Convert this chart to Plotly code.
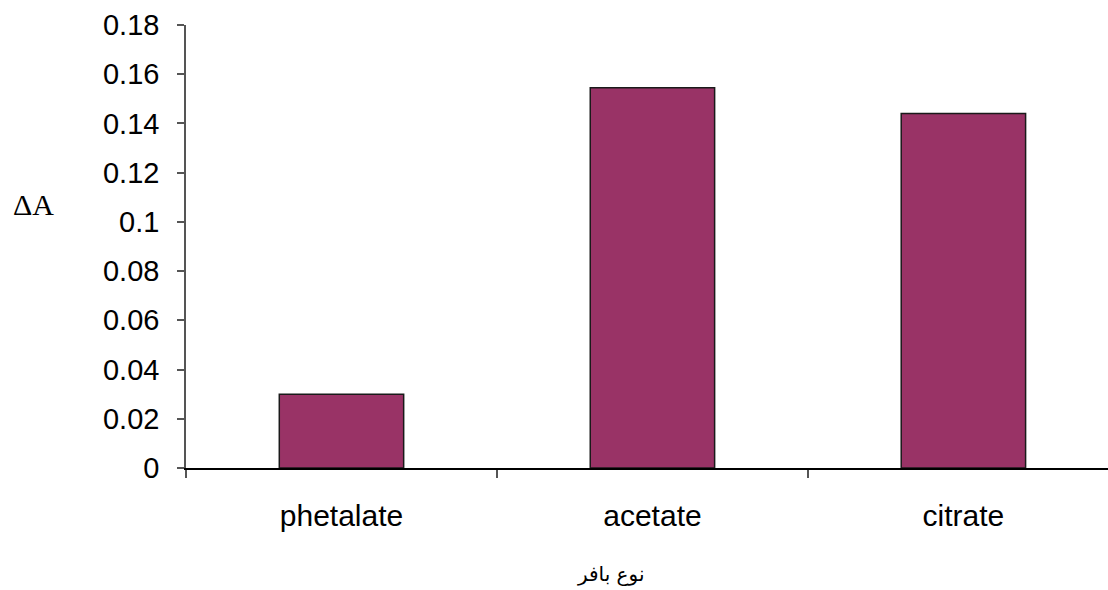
import plotly.graph_objects as go

# Buffer types and the measured absorbance change for each
buffers = ["phetalate", "acetate", "citrate"]
delta_a = [0.030, 0.1545, 0.144]
y_ticks = [0, 0.02, 0.04, 0.06, 0.08, 0.1, 0.12, 0.14, 0.16, 0.18]
y_tick_text = ["0", "0.02", "0.04", "0.06", "0.08", "0.1", "0.12", "0.14", "0.16", "0.18"]

fig = go.Figure(
    go.Bar(
        x=buffers,
        y=delta_a,
        width=0.4,
        marker=dict(color="#993366", line=dict(color="#1a1a1a", width=1.5)),
    )
)

fig.update_layout(
    width=1108,
    height=590,
    margin=dict(l=186, r=0, t=25, b=122),
    plot_bgcolor="white",
    paper_bgcolor="white",
    showlegend=False,
    font=dict(family="Liberation Sans, Arial, sans-serif", size=29, color="black"),
)

fig.update_xaxes(
    type="category",
    range=[-0.5, 2.465],
    showline=True,
    linecolor="black",
    linewidth=2,
    ticks="outside",
    tickson="boundaries",
    ticklen=8,
    tickwidth=1.5,
    tickcolor="#555",
    ticklabelstandoff=20,
    tickfont=dict(size=30),
    showgrid=False,
    zeroline=False,
)

fig.update_yaxes(
    range=[0, 0.18],
    tickvals=y_ticks,
    ticktext=y_tick_text,
    showline=True,
    linecolor="#555",
    linewidth=1.5,
    ticks="outside",
    ticklen=7,
    tickwidth=1.5,
    tickcolor="#555",
    ticklabelstandoff=12,
    tickfont=dict(size=29),
    showgrid=False,
    zeroline=False,
)

# Axis titles
fig.add_annotation(
    text="ΔA", xref="paper", yref="paper", x=-0.165, y=0.595,
    xanchor="center", yanchor="middle", showarrow=False,
    font=dict(family="Liberation Serif, Times New Roman, serif", size=30, color="black"),
)
fig.add_annotation(
    text="نوع بافر", xref="paper", yref="paper", x=0.46, y=-0.24,
    xanchor="center", yanchor="middle", showarrow=False,
    font=dict(family="DejaVu Sans, sans-serif", size=20, color="black"),
)

fig.write_html("out.html")
